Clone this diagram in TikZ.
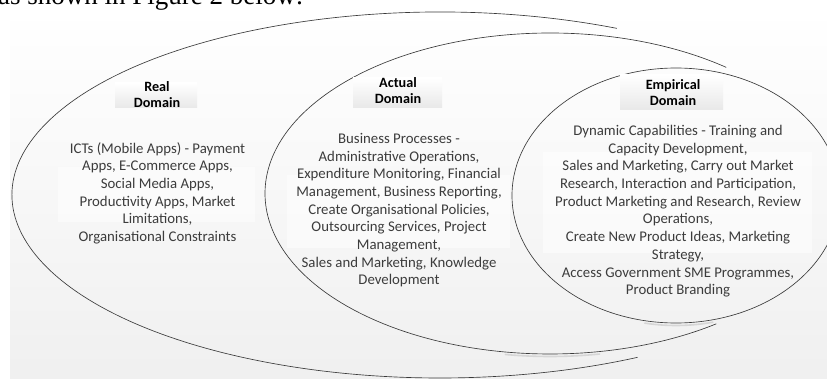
\documentclass[tikz,border=0pt]{standalone}
\usepackage{fontspec}
\setmainfont{Carlito}
\newfontfamily\docserif{Liberation Serif}
\definecolor{bodygray}{HTML}{3C3C3C}
\definecolor{ringcol}{HTML}{3A3A3A}
\begin{document}
\begin{tikzpicture}[x=1pt,y=1pt,
  domainlabel/.style={font=\fontsize{14.2}{16}\selectfont\bfseries, align=center, text=black, inner sep=0pt, anchor=north},
  bodytext/.style={font=\fontsize{14.8}{17.7}\selectfont, align=center, text=bodygray, inner sep=0pt, anchor=north},
  ring/.style={draw=ringcol, line width=0.65pt},
  ringshadow/.style={draw=black!16, line width=1.6pt, line cap=round},
  labelbox/.style={top color=white, bottom color=black!9, draw=none},
  bodybox/.style={fill=white, fill opacity=0.5, draw=none}]
\useasboundingbox (0,0) rectangle (827,378);
% background
\shade[top color=white, bottom color=black!6] (10,0) rectangle (827,369);
% top text line of the page (cut off)
\node[font=\docserif\fontsize{27}{30}\selectfont, anchor=base west, inner sep=0pt] (intro) at (-2,373) {as shown in Figure 2 below:};
% centres
\coordinate (co) at (440,183);
\coordinate (ca) at (550,184.5);
\coordinate (ce) at (676,182.5);
% shadows under rings
\draw[ringshadow] ([shift={(261:285pt and 163pt)}]ca) arc[start angle=261, end angle=280, x radius=285pt, y radius=163pt];
\draw[ringshadow] ([shift={(259:164pt and 130pt)}]ce) arc[start angle=259, end angle=283, x radius=164pt, y radius=130pt];
% rings
\draw[ring] ([shift={(65.6:428pt and 183pt)}]co) arc[start angle=65.6, end angle=297.5, x radius=428pt, y radius=183pt];
\draw[ring] ([shift={(51.8:285pt and 160.5pt)}]ca) arc[start angle=51.8, end angle=305.7, x radius=285pt, y radius=160.5pt];
\draw[ring] (ce) ellipse[x radius=164pt, y radius=127.5pt];
% label boxes
\fill[labelbox] (115,270) rectangle (197,295);
\fill[labelbox] (353,270) rectangle (442,300);
\fill[labelbox] (620,268) rectangle (723,303);
% body boxes
\fill[bodybox] (58,156) rectangle (255,211);
\fill[bodybox] (287,130) rectangle (510,203);
\fill[bodybox] (543,125) rectangle (812,226);
% labels
\node[domainlabel] (lreal) at (157,297) {Real\\Domain};
\node[domainlabel] (lact) at (398,301) {Actual\\Domain};
\node[domainlabel] (lemp) at (673,299) {Empirical\\Domain};
% bodies
\node[bodytext] (treal) at (157.5,236) {ICTs (Mobile Apps) - Payment\\Apps, E-Commerce Apps,\\Social Media Apps,\\Productivity Apps, Market\\Limitations,\\Organisational Constraints};
\node[bodytext] (tact) at (399,245) {Business Processes -\\Administrative Operations,\\Expenditure Monitoring, Financial\\Management, Business Reporting,\\Create Organisational Policies,\\Outsourcing Services, Project\\Management,\\Sales and Marketing, Knowledge\\Development};
\node[bodytext] (temp) at (678,253) {Dynamic Capabilities - Training and\\Capacity Development,\\Sales and Marketing, Carry out Market\\Research, Interaction and Participation,\\Product Marketing and Research, Review\\Operations,\\Create New Product Ideas, Marketing\\Strategy,\\Access Government SME Programmes,\\Product Branding};
\end{tikzpicture}
\end{document}
